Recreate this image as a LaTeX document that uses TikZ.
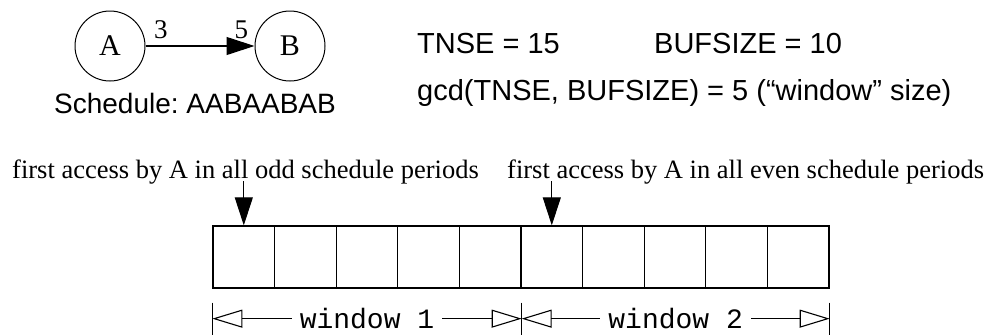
\documentclass[tikz,border=0pt]{standalone}
\usepackage{fontspec}
\setmainfont{Liberation Serif}
\setsansfont{Liberation Sans}
\setmonofont{Liberation Mono}
\usepackage{xcolor}
\definecolor{wsink}{HTML}{000000}
\usepackage{tikz}
\usetikzlibrary{arrows.meta,positioning,calc}
\frenchspacing
\tikzset{
  wsactor/.style ={circle, draw=wsink, line width=1pt, minimum size=70pt,
                   inner sep=0pt, font=\fontsize{30}{32}\selectfont, text=wsink},
  wscell/.style  ={rectangle, draw=wsink, line width=1.3pt, minimum width=61.6pt,
                   minimum height=62pt, inner sep=0pt},
  wsarrow/.style ={-{Triangle[length=28pt,width=18pt]}, line width=1.1pt, draw=wsink},
  wsdim/.style   ={{Triangle[open,length=30pt,width=18pt]}-{Triangle[open,length=30pt,width=18pt]},
                   line width=1.1pt, draw=wsink},
  wsnum/.style   ={font=\fontsize{27}{29}\selectfont, inner sep=1pt, text=wsink},
  wssans/.style  ={font=\sffamily\fontsize{29}{32}\selectfont, inner sep=0pt, text=wsink},
  wsserif/.style ={font=\fontsize{26.5}{30}\selectfont, inner sep=0pt, text=wsink},
  wsmono/.style  ={font=\ttfamily\fontsize{28}{30}\selectfont, fill=white,
                   inner xsep=8pt, inner ysep=1pt, text=wsink},
}
\begin{document}
\begin{tikzpicture}[x=1pt, y=-1pt]
  \useasboundingbox (0,0) rectangle (987,335);
  % graph and schedule
  \node[wsactor] (A) at (110,46) {A};
  \node[wsactor] (B) at (290,46) {B};
  \draw[wsarrow] (A) -- (B)
    node[wsnum, pos=0.14, above=6pt] (prod) {3}
    node[wsnum, pos=0.88, above=6pt] (cons) {5};
  \node[wssans, font=\sffamily\fontsize{28}{32}\selectfont, anchor=base] (sched)
    at (195,113) {Schedule: AABAABAB};
  \node[wssans, anchor=base west] (tnse) at (417,53) {TNSE = 15};
  \node[wssans, anchor=base west] (bufsize) at (654,53) {BUFSIZE = 10};
  \node[wssans, anchor=base west] (gcd) at (417,100)
    {gcd(TNSE, BUFSIZE) = 5 (“window” size)};
  % buffer
  \foreach \i in {1,...,10}{
    \node[wscell] (c\i) at ({213+(\i-0.5)*61.6},257) {};
  }
  \node[wsserif, anchor=base west] (oddlbl) at (12,178)
    {first access by A in all odd schedule periods};
  \node[wsserif, anchor=base west] (evenlbl) at (507,178)
    {first access by A in all even schedule periods};
  \path (c1.north) ++(0,-44) coordinate (oddtop);
  \path (c6.north) ++(0,-44) coordinate (eventop);
  \draw[wsarrow] (oddtop) -- (c1.north);
  \draw[wsarrow] (eventop) -- (c6.north);
  % windows
  \path (c1.south west) ++(0,30) coordinate (w0);
  \path (c5.south east) ++(0,30) coordinate (w1);
  \path (c10.south east) ++(0,30) coordinate (w2);
  \foreach \w in {w0,w1,w2}{
    \draw[line width=1.1pt, draw=wsink] (\w) ++(0,-16) -- ++(0,32);
  }
  \draw[wsdim] (w0) -- (w1);
  \draw[wsdim] (w1) -- (w2);
  \node[wsmono] (win1) at ($(w0)!0.5!(w1)$) {window 1};
  \node[wsmono] (win2) at ($(w1)!0.5!(w2)$) {window 2};
\end{tikzpicture}
\end{document}
